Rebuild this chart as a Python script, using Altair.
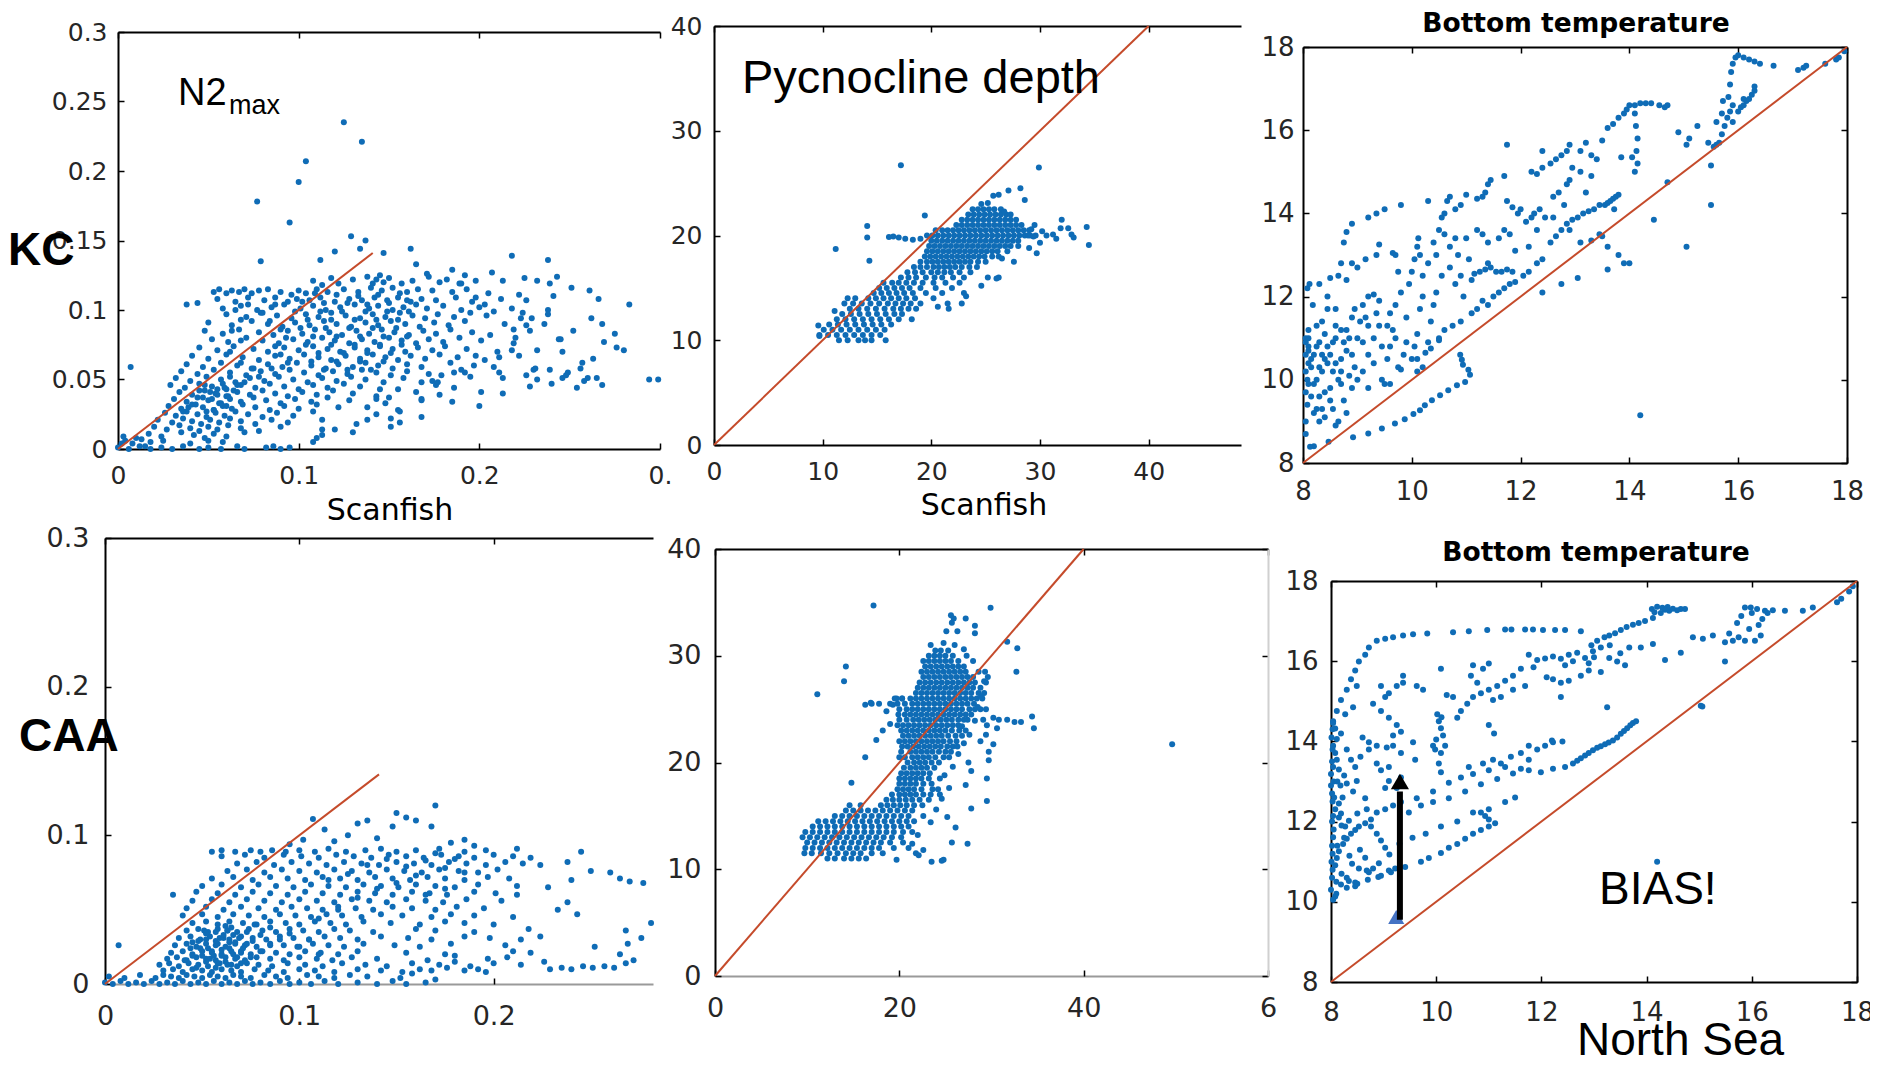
import altair as alt
import pandas as pd

BLUE = "#0F6CB6"
RED = "#C54B2B"
TICK_FONT = "DejaVu Sans"
ANN_FONT = "Liberation Sans"
OFF = 8
W, H = 1862, 1049
PT = 36

# ---------------- data: KC, N2max (Scanfish vs model) ----------------
kc_n2 = [
 (0.125,0.235),(0.135,0.221),(0.104,0.207),(0.100,0.192),(0.077,0.178),(0.095,0.163),
 (0.079,0.135),(0.007,0.059),(0.038,0.104),(0.044,0.105),
 (0.129,0.153),(0.137,0.150),(0.134,0.144),(0.147,0.141),(0.162,0.144),(0.120,0.142),
 (0.112,0.136),(0.218,0.139),(0.238,0.136),(0.165,0.133),(0.185,0.129),(0.171,0.126),
 (0.283,0.104),(0.280,0.071),(0.269,0.077),(0.275,0.083),(0.268,0.090),(0.266,0.108),
 (0.261,0.114),(0.251,0.116),(0.243,0.124),(0.239,0.119),(0.232,0.121),(0.225,0.123),
 (0.238,0.100),(0.236,0.090),(0.232,0.071),(0.226,0.053),(0.230,0.057),(0.239,0.057),
 (0.246,0.070),(0.249,0.055),(0.256,0.058),(0.260,0.051),(0.265,0.051),(0.246,0.051),
 (0.294,0.050),(0.299,0.050),(0.219,0.086),(0.220,0.080),(0.218,0.071),(0.211,0.066),
 (0.213,0.051),(0.201,0.041),(0.208,0.059),(0.198,0.067),(0.203,0.104),(0.207,0.127),
 (0.213,0.121),(0.222,0.111),(0.224,0.098),(0.226,0.089),(0.198,0.109),(0.192,0.125),
 (0.189,0.119),(0.257,0.062),(0.262,0.094),(0.252,0.085),(0.244,0.079),(0.229,0.094),
 (0.108,0.121),(0.113,0.118),(0.118,0.123),(0.122,0.119),(0.130,0.122),(0.138,0.124),(0.141,0.119),
 (0.143,0.122),(0.145,0.125),(0.147,0.120),(0.150,0.123),(0.157,0.119),(0.163,0.121),(0.172,0.124),
 (0.178,0.120),(0.182,0.122),(0.190,0.119),(0.198,0.121),
 (0.053,0.113),(0.056,0.115),(0.060,0.112),(0.063,0.114),(0.067,0.113),(0.070,0.115),(0.074,0.112),
 (0.078,0.114),(0.083,0.115),(0.090,0.113),(0.100,0.114),(0.104,0.112),(0.110,0.115),(0.116,0.113),
 (0.125,0.115),(0.133,0.113),(0.140,0.116),(0.146,0.114),(0.152,0.116),(0.160,0.113),(0.166,0.115),
 (0.174,0.114),(0.185,0.113),(0.193,0.115),(0.205,0.112),
 (0.055,0.108),(0.065,0.106),(0.072,0.109),(0.081,0.107),(0.087,0.109),(0.094,0.106),(0.099,0.108),
 (0.106,0.107),(0.112,0.109),(0.120,0.106),(0.128,0.108),(0.135,0.107),(0.142,0.109),(0.149,0.107),
 (0.155,0.109),(0.162,0.106),(0.168,0.108),(0.176,0.107),(0.187,0.109),(0.196,0.106),(0.212,0.108),
 (0.226,0.107),(0.241,0.110),
 (0.058,0.101),(0.068,0.103),(0.077,0.100),(0.085,0.102),(0.092,0.104),(0.101,0.101),(0.108,0.103),
 (0.115,0.100),(0.123,0.102),(0.131,0.104),(0.139,0.101),(0.144,0.103),(0.152,0.100),(0.158,0.102),
 (0.165,0.104),(0.171,0.101),(0.180,0.103),(0.190,0.100),(0.200,0.102),(0.208,0.099),(0.218,0.101),
 (0.060,0.097),(0.071,0.095),(0.079,0.098),(0.088,0.096),(0.096,0.094),(0.104,0.097),(0.111,0.095),
 (0.118,0.098),(0.126,0.096),(0.134,0.094),(0.141,0.097),(0.148,0.095),(0.156,0.098),(0.163,0.096),
 (0.170,0.094),(0.177,0.097),(0.186,0.095),(0.195,0.098),(0.204,0.096),(0.223,0.094),(0.238,0.097),
 (0.050,0.091),(0.063,0.089),(0.074,0.092),(0.083,0.090),(0.091,0.088),(0.098,0.091),(0.106,0.089),
 (0.114,0.092),(0.121,0.090),(0.129,0.088),(0.137,0.091),(0.144,0.089),(0.151,0.092),(0.159,0.090),
 (0.167,0.088),(0.175,0.091),(0.183,0.089),(0.192,0.092),(0.214,0.090),
 (0.048,0.085),(0.058,0.083),(0.067,0.086),(0.078,0.084),(0.086,0.082),(0.094,0.085),(0.102,0.083),
 (0.109,0.086),(0.117,0.084),(0.124,0.082),(0.132,0.085),(0.139,0.083),(0.146,0.086),(0.153,0.084),
 (0.161,0.082),(0.169,0.085),(0.176,0.083),(0.184,0.086),(0.196,0.084),(0.206,0.082),(0.228,0.085),
 (0.052,0.079),(0.061,0.077),(0.071,0.080),(0.080,0.078),(0.089,0.076),(0.097,0.079),(0.105,0.077),
 (0.113,0.080),(0.120,0.078),(0.128,0.076),(0.135,0.079),(0.142,0.077),(0.150,0.080),(0.157,0.078),
 (0.165,0.076),(0.172,0.079),(0.180,0.077),(0.189,0.080),(0.201,0.078),(0.219,0.076),(0.245,0.079),
 (0.045,0.073),(0.055,0.071),(0.064,0.074),(0.075,0.072),(0.083,0.070),(0.092,0.073),(0.100,0.071),
 (0.108,0.074),(0.116,0.072),(0.123,0.070),(0.131,0.073),(0.138,0.071),(0.145,0.074),(0.152,0.072),
 (0.159,0.070),(0.166,0.073),(0.174,0.071),(0.181,0.074),(0.193,0.072),(0.210,0.070),(0.276,0.073),
 (0.041,0.067),(0.050,0.065),(0.060,0.068),(0.069,0.066),(0.078,0.064),(0.087,0.067),(0.095,0.065),
 (0.103,0.068),(0.111,0.066),(0.118,0.064),(0.126,0.067),(0.134,0.065),(0.141,0.068),(0.148,0.066),
 (0.155,0.064),(0.162,0.067),(0.170,0.065),(0.178,0.068),(0.188,0.066),(0.203,0.064),(0.222,0.067),
 (0.263,0.065),
 (0.038,0.061),(0.047,0.059),(0.057,0.062),(0.066,0.060),(0.074,0.058),(0.083,0.061),(0.091,0.059),
 (0.099,0.062),(0.107,0.060),(0.115,0.058),(0.122,0.061),(0.130,0.059),(0.137,0.062),(0.144,0.060),
 (0.152,0.058),(0.160,0.061),(0.168,0.059),(0.184,0.062),(0.197,0.060),(0.231,0.058),
 (0.035,0.056),(0.044,0.054),(0.053,0.057),(0.062,0.055),(0.071,0.053),(0.079,0.056),(0.087,0.054),
 (0.095,0.057),(0.103,0.055),(0.111,0.053),(0.119,0.056),(0.127,0.054),(0.135,0.057),(0.143,0.055),
 (0.151,0.053),(0.160,0.056),(0.172,0.054),(0.190,0.057),(0.211,0.055),(0.248,0.053),
 (0.032,0.051),(0.040,0.049),(0.049,0.052),(0.057,0.050),(0.065,0.048),(0.073,0.051),(0.081,0.049),
 (0.089,0.052),(0.097,0.050),(0.105,0.048),(0.113,0.051),(0.121,0.049),(0.129,0.052),(0.137,0.050),
 (0.147,0.048),(0.158,0.051),(0.174,0.049),(0.195,0.052),(0.232,0.050),(0.258,0.049),
 (0.029,0.046),(0.037,0.044),(0.045,0.047),(0.052,0.045),(0.060,0.043),(0.068,0.046),(0.076,0.044),
 (0.084,0.047),(0.092,0.045),(0.100,0.043),(0.108,0.046),(0.116,0.044),(0.125,0.047),(0.134,0.045),
 (0.145,0.043),(0.176,0.046),(0.186,0.044),(0.228,0.045),(0.240,0.047),(0.254,0.044),(0.268,0.046),
 (0.034,0.041),(0.041,0.039),(0.048,0.042),(0.054,0.040),(0.060,0.038),(0.066,0.041),(0.073,0.039),
 (0.080,0.042),(0.087,0.040),(0.094,0.038),(0.102,0.041),(0.110,0.039),(0.119,0.042),(0.130,0.040),
 (0.143,0.038),(0.165,0.041),(0.178,0.039),(0.213,0.040),
 (0.031,0.036),(0.038,0.034),(0.044,0.037),(0.050,0.035),(0.056,0.033),(0.062,0.036),(0.068,0.034),
 (0.075,0.037),(0.082,0.035),(0.090,0.033),(0.098,0.036),(0.107,0.034),(0.116,0.037),(0.128,0.035),
 (0.148,0.033),(0.168,0.036),(0.185,0.034),
 (0.028,0.031),(0.035,0.029),(0.041,0.032),(0.047,0.030),(0.053,0.028),(0.058,0.031),(0.063,0.029),
 (0.069,0.032),(0.076,0.030),(0.084,0.028),(0.092,0.031),(0.100,0.029),(0.110,0.032),(0.122,0.030),
 (0.155,0.028),(0.200,0.031),
 (0.026,0.026),(0.032,0.024),(0.038,0.027),(0.044,0.025),(0.049,0.023),(0.054,0.026),(0.059,0.024),
 (0.065,0.027),(0.072,0.025),(0.080,0.023),(0.088,0.026),(0.097,0.024),(0.108,0.027),(0.143,0.025),
 (0.168,0.023),
 (0.022,0.021),(0.030,0.019),(0.036,0.022),(0.041,0.020),(0.046,0.018),(0.051,0.021),(0.056,0.019),
 (0.062,0.022),(0.068,0.020),(0.076,0.018),(0.085,0.021),(0.094,0.019),(0.138,0.021),(0.156,0.019),
 (0.020,0.016),(0.027,0.014),(0.034,0.017),(0.040,0.015),(0.045,0.013),(0.050,0.016),(0.055,0.014),
 (0.061,0.017),(0.068,0.015),(0.078,0.013),(0.090,0.016),(0.113,0.014),(0.151,0.016),
 (0.017,0.011),(0.024,0.009),(0.035,0.012),(0.042,0.010),(0.048,0.008),(0.053,0.011),(0.060,0.009),
 (0.070,0.012),(0.113,0.010),(0.130,0.012),(0.110,0.008),
 (0.004,0.006),(0.008,0.004),(0.013,0.007),(0.018,0.005),(0.025,0.006),(0.040,0.004),(0.050,0.006),
 (0.058,0.005),(0.108,0.005),(0.120,0.014),
 (0.000,0.001),(0.006,0.000),(0.012,0.002),(0.018,0.000),(0.024,0.001),(0.030,0.000),(0.036,0.002),
 (0.045,0.000),(0.050,0.001),(0.057,0.000),(0.066,0.002),(0.070,0.000),(0.082,0.001),(0.086,0.002),
 (0.090,0.000),(0.095,0.001),(0.003,0.009),(0.010,0.008),(0.002,0.004),(0.015,0.002),
 (0.043,0.032),(0.047,0.037),(0.051,0.041),(0.055,0.043),(0.058,0.047),(0.061,0.038),(0.064,0.042),
 (0.057,0.033),(0.053,0.028),(0.049,0.027),(0.045,0.042),(0.039,0.030),(0.036,0.027),(0.062,0.052),
 (0.059,0.044),(0.052,0.036),(0.048,0.046),(0.055,0.039),(0.060,0.031),(0.066,0.046),
 (0.113,0.021),(0.132,0.018),(0.138,0.030),(0.151,0.022),(0.156,0.027),(0.168,0.035),(0.168,0.048),
 (0.177,0.048),(0.179,0.053),(0.186,0.055),(0.192,0.055),(0.155,0.043),(0.150,0.037),(0.143,0.036),
 (0.096,0.111),(0.102,0.106),(0.109,0.112),(0.114,0.105),(0.121,0.111),(0.127,0.105),(0.133,0.110),
 (0.138,0.104),(0.144,0.111),(0.150,0.105),(0.156,0.112),(0.160,0.107),(0.098,0.099),(0.105,0.093),
 (0.112,0.099),(0.118,0.093),(0.124,0.099),(0.131,0.093),(0.137,0.099),(0.143,0.093),(0.149,0.099),
 (0.155,0.093),(0.161,0.099),(0.101,0.087),(0.108,0.081),(0.115,0.087),(0.121,0.081),(0.128,0.087),
 (0.134,0.081),(0.141,0.087),(0.147,0.081),(0.154,0.087),(0.160,0.081),(0.104,0.075),(0.111,0.069),
 (0.118,0.075),(0.125,0.069),(0.131,0.075),(0.138,0.069),(0.145,0.075),(0.151,0.069),(0.157,0.075),
 (0.107,0.063),(0.114,0.057),(0.121,0.063),(0.127,0.057),(0.134,0.063),(0.140,0.057),(0.147,0.063),
 (0.087,0.104),(0.080,0.098),(0.084,0.092),(0.090,0.086),(0.093,0.080),(0.087,0.074),(0.090,0.068),
 (0.094,0.062),(0.085,0.058),(0.078,0.052),(0.070,0.048),(0.075,0.058),(0.068,0.062),(0.062,0.070),
 (0.068,0.078),(0.063,0.085),(0.068,0.093),(0.065,0.100),(0.072,0.104),
]

# ---------------- data: CAA, N2max ----------------
caa_n2 = [
 (0.007,0.026),
 (0.000,0.001),(0.004,0.000),(0.008,0.002),(0.012,0.000),(0.016,0.001),(0.020,0.000),(0.024,0.002),
 (0.028,0.000),(0.032,0.001),(0.036,0.000),(0.040,0.002),(0.044,0.000),(0.048,0.001),(0.052,0.000),
 (0.056,0.002),(0.060,0.000),(0.064,0.001),(0.068,0.000),(0.072,0.002),(0.076,0.000),(0.080,0.001),
 (0.085,0.000),(0.090,0.002),(0.095,0.000),(0.100,0.001),(0.106,0.000),(0.113,0.002),(0.120,0.000),
 (0.130,0.001),(0.140,0.000),(0.148,0.002),(0.155,0.000),(0.165,0.001),(0.170,0.003),
 (0.002,0.005),(0.010,0.004),(0.018,0.006),(0.026,0.004),(0.030,0.006),(0.034,0.005),(0.038,0.004),
 (0.042,0.006),(0.046,0.005),(0.050,0.004),(0.054,0.006),(0.058,0.005),(0.062,0.004),(0.066,0.006),
 (0.070,0.005),(0.075,0.004),(0.082,0.006),(0.088,0.005),(0.094,0.004),(0.104,0.006),(0.110,0.005),
 (0.118,0.004),(0.126,0.006),(0.135,0.005),(0.152,0.004),(0.158,0.007),
 (0.030,0.009),(0.035,0.010),(0.040,0.008),(0.045,0.010),(0.050,0.009),(0.055,0.008),(0.060,0.010),
 (0.065,0.009),(0.070,0.008),(0.077,0.010),(0.084,0.009),(0.092,0.008),(0.100,0.010),(0.108,0.009),
 (0.118,0.008),(0.130,0.010),(0.142,0.009),(0.153,0.008),(0.162,0.010),(0.168,0.009),(0.176,0.011),
 (0.185,0.009),(0.192,0.010),(0.196,0.008),(0.229,0.010),(0.235,0.011),(0.240,0.010),(0.246,0.012),
 (0.251,0.011),(0.257,0.012),(0.262,0.011),(0.268,0.014),
 (0.028,0.013),(0.033,0.014),(0.038,0.012),(0.043,0.014),(0.048,0.013),(0.053,0.012),(0.058,0.014),
 (0.063,0.013),(0.068,0.012),(0.073,0.014),(0.079,0.013),(0.086,0.012),(0.094,0.014),(0.103,0.013),
 (0.112,0.012),(0.122,0.014),(0.134,0.013),(0.145,0.012),(0.158,0.014),(0.172,0.013),(0.180,0.015),
 (0.188,0.012),(0.200,0.014),(0.214,0.013),(0.226,0.015),(0.272,0.016),
 (0.032,0.017),(0.037,0.018),(0.042,0.016),(0.047,0.018),(0.052,0.017),(0.057,0.016),(0.062,0.018),
 (0.067,0.017),(0.072,0.016),(0.078,0.018),(0.085,0.017),(0.092,0.016),(0.100,0.018),(0.109,0.017),
 (0.117,0.016),(0.127,0.018),(0.140,0.017),(0.166,0.016),(0.180,0.019),(0.197,0.017),(0.207,0.018),
 (0.034,0.021),(0.040,0.022),(0.045,0.020),(0.050,0.022),(0.055,0.021),(0.060,0.020),(0.065,0.022),
 (0.070,0.021),(0.075,0.020),(0.081,0.022),(0.088,0.021),(0.095,0.020),(0.103,0.022),(0.111,0.021),
 (0.120,0.020),(0.130,0.022),(0.155,0.021),(0.175,0.020),(0.210,0.022),(0.219,0.021),(0.265,0.020),
 (0.036,0.026),(0.042,0.027),(0.047,0.025),(0.052,0.027),(0.057,0.026),(0.062,0.025),(0.067,0.027),
 (0.072,0.026),(0.078,0.025),(0.085,0.027),(0.092,0.026),(0.099,0.025),(0.107,0.027),(0.115,0.026),
 (0.123,0.025),(0.133,0.027),(0.149,0.026),(0.162,0.025),(0.178,0.027),(0.206,0.026),(0.252,0.025),
 (0.269,0.027),
 (0.038,0.031),(0.044,0.032),(0.049,0.030),(0.054,0.032),(0.059,0.031),(0.064,0.030),(0.070,0.032),
 (0.076,0.031),(0.083,0.030),(0.090,0.032),(0.097,0.031),(0.105,0.030),(0.113,0.032),(0.121,0.031),
 (0.130,0.030),(0.142,0.032),(0.156,0.031),(0.168,0.030),(0.185,0.032),(0.198,0.031),(0.214,0.030),
 (0.224,0.032),(0.276,0.031),
 (0.042,0.036),(0.048,0.037),(0.053,0.035),(0.058,0.037),(0.063,0.036),(0.068,0.035),(0.074,0.037),
 (0.081,0.036),(0.088,0.035),(0.095,0.037),(0.102,0.036),(0.110,0.035),(0.118,0.037),(0.126,0.036),
 (0.138,0.035),(0.160,0.037),(0.170,0.036),(0.190,0.035),(0.218,0.037),(0.268,0.036),
 (0.045,0.041),(0.052,0.042),(0.058,0.040),(0.064,0.042),(0.071,0.041),(0.078,0.040),(0.085,0.042),
 (0.093,0.041),(0.100,0.040),(0.108,0.042),(0.116,0.041),(0.124,0.040),(0.133,0.042),(0.147,0.041),
 (0.162,0.040),(0.175,0.042),(0.185,0.041),(0.200,0.040),(0.281,0.041),
 (0.040,0.046),(0.050,0.047),(0.058,0.045),(0.066,0.047),(0.074,0.046),(0.082,0.045),(0.090,0.047),
 (0.098,0.046),(0.106,0.045),(0.114,0.047),(0.122,0.046),(0.132,0.045),(0.142,0.047),(0.153,0.046),
 (0.168,0.045),(0.178,0.047),(0.190,0.046),(0.210,0.045),(0.243,0.047),
 (0.042,0.051),(0.052,0.052),(0.061,0.050),(0.070,0.052),(0.079,0.051),(0.088,0.050),(0.096,0.052),
 (0.104,0.051),(0.112,0.050),(0.120,0.052),(0.129,0.051),(0.138,0.050),(0.148,0.052),(0.158,0.051),
 (0.170,0.050),(0.181,0.052),(0.195,0.051),(0.233,0.050),
 (0.045,0.056),(0.055,0.057),(0.064,0.055),(0.073,0.057),(0.082,0.056),(0.091,0.055),(0.100,0.057),
 (0.109,0.056),(0.118,0.055),(0.127,0.057),(0.136,0.056),(0.145,0.055),(0.155,0.057),(0.165,0.056),
 (0.174,0.055),(0.186,0.057),(0.204,0.056),(0.238,0.055),
 (0.035,0.060),(0.047,0.062),(0.058,0.061),(0.067,0.060),(0.076,0.062),(0.085,0.061),(0.094,0.060),
 (0.103,0.062),(0.112,0.061),(0.121,0.060),(0.130,0.062),(0.139,0.061),(0.148,0.060),(0.158,0.062),
 (0.167,0.061),(0.176,0.060),(0.190,0.062),(0.201,0.061),(0.212,0.060),
 (0.050,0.066),(0.060,0.067),(0.070,0.065),(0.079,0.067),(0.088,0.066),(0.097,0.065),(0.106,0.067),
 (0.115,0.066),(0.124,0.065),(0.133,0.067),(0.142,0.066),(0.151,0.065),(0.160,0.067),(0.170,0.066),
 (0.180,0.065),(0.192,0.067),(0.212,0.066),(0.228,0.065),
 (0.055,0.071),(0.066,0.072),(0.076,0.070),(0.085,0.072),(0.094,0.071),(0.103,0.070),(0.112,0.072),
 (0.121,0.071),(0.130,0.070),(0.139,0.072),(0.148,0.071),(0.157,0.070),(0.166,0.072),(0.175,0.071),
 (0.185,0.070),(0.197,0.072),(0.208,0.071),(0.240,0.070),(0.265,0.071),(0.270,0.069),
 (0.063,0.076),(0.073,0.077),(0.082,0.075),(0.091,0.077),(0.100,0.076),(0.109,0.075),(0.118,0.077),
 (0.127,0.076),(0.136,0.075),(0.145,0.077),(0.154,0.076),(0.163,0.075),(0.172,0.077),(0.182,0.076),
 (0.192,0.075),(0.202,0.077),(0.250,0.076),(0.260,0.075),(0.277,0.068),
 (0.068,0.081),(0.078,0.082),(0.087,0.080),(0.096,0.082),(0.105,0.081),(0.114,0.080),(0.123,0.082),
 (0.132,0.081),(0.141,0.080),(0.150,0.082),(0.159,0.081),(0.168,0.080),(0.177,0.082),(0.186,0.081),
 (0.196,0.080),(0.206,0.082),(0.215,0.081),(0.224,0.080),(0.238,0.082),
 (0.060,0.086),(0.072,0.087),(0.082,0.085),(0.092,0.087),(0.101,0.086),(0.110,0.085),(0.119,0.087),
 (0.128,0.086),(0.137,0.085),(0.146,0.087),(0.155,0.086),(0.164,0.085),(0.173,0.087),(0.182,0.086),
 (0.190,0.085),(0.200,0.087),(0.210,0.086),(0.219,0.085),
 (0.055,0.089),(0.060,0.090),(0.067,0.089),(0.075,0.090),(0.080,0.089),(0.086,0.090),(0.093,0.089),
 (0.100,0.090),(0.108,0.089),(0.115,0.091),(0.124,0.089),(0.134,0.090),(0.142,0.091),(0.150,0.089),
 (0.160,0.090),(0.172,0.091),(0.185,0.089),(0.196,0.090),(0.245,0.089),(0.212,0.091),
 (0.107,0.111),(0.113,0.104),(0.130,0.108),(0.135,0.110),(0.125,0.100),(0.150,0.115),(0.155,0.112),
 (0.160,0.110),(0.170,0.120),(0.168,0.106),(0.148,0.106),(0.140,0.098),(0.118,0.096),(0.185,0.097),
 (0.178,0.095),(0.190,0.093),(0.102,0.097),(0.095,0.094),
 (0.055,0.022),(0.058,0.027),(0.061,0.031),(0.064,0.024),(0.060,0.019),(0.067,0.028),(0.052,0.030),
 (0.057,0.035),(0.063,0.036),(0.066,0.033),(0.070,0.022),(0.049,0.024),(0.054,0.017),(0.059,0.014),
 (0.062,0.039),(0.068,0.018),(0.045,0.019),(0.073,0.027),(0.051,0.036),(0.065,0.013),
 (0.047,0.011),(0.052,0.015),(0.056,0.019),(0.060,0.023),(0.064,0.028),(0.069,0.031),(0.073,0.035),
 (0.077,0.040),(0.057,0.011),(0.062,0.015),(0.066,0.020),(0.071,0.024),(0.076,0.029),(0.080,0.033),
 (0.085,0.038),(0.050,0.019),(0.053,0.024),(0.057,0.029),(0.061,0.033),(0.065,0.038),(0.044,0.024),
 (0.048,0.029),(0.052,0.034),(0.041,0.016),(0.045,0.028),(0.070,0.014),(0.075,0.018),(0.080,0.022),
 (0.085,0.026),(0.090,0.030),(0.095,0.034),(0.100,0.025),(0.105,0.030),(0.110,0.020),(0.115,0.070),
 (0.125,0.074),(0.135,0.080),(0.145,0.084),(0.155,0.079),(0.165,0.083),(0.175,0.078),(0.160,0.073),
 (0.150,0.068),(0.140,0.064),(0.130,0.058),(0.120,0.050),(0.110,0.044),(0.170,0.088),(0.180,0.084),
 (0.185,0.075),(0.175,0.064),(0.165,0.060),
]

# ---------------- data: KC, pycnocline depth ----------------
kc_pyc_rows = [
 (22.5, [23.8, 24.3, 24.8, 25.3, 25.8, 26.4]),
 (22.0, [23.4, 23.9, 24.4, 24.9, 25.4, 25.9, 26.4, 26.9]),
 (21.5, [22.8, 23.3, 23.8, 24.3, 24.8, 25.3, 25.8, 26.3, 26.8, 27.3, 27.8]),
 (21.0, [22.3, 22.8, 23.3, 23.8, 24.3, 24.8, 25.3, 25.8, 26.3, 26.8, 27.3, 27.8, 28.3]),
 (20.5, [20.4, 21.0, 21.5, 22.0, 22.5, 23.0, 23.5, 24.0, 24.5, 25.0, 25.5, 26.0, 26.5, 27.0, 27.5, 28.0, 28.5, 29.0]),
 (20.0, [19.6, 20.1, 20.6, 21.1, 21.6, 22.1, 22.6, 23.1, 23.6, 24.1, 24.6, 25.1, 25.6, 26.1, 26.6, 27.1, 27.6, 28.1, 28.6, 29.1, 29.6]),
 (19.5, [20.0, 20.5, 21.0, 21.5, 22.0, 22.5, 23.0, 23.5, 24.0, 24.5, 25.0, 25.5, 26.0, 26.5, 27.0, 27.5, 28.0]),
 (19.0, [19.8, 20.3, 20.8, 21.3, 21.8, 22.3, 22.8, 23.3, 23.8, 24.3, 24.8, 25.3, 25.8, 26.3, 26.8, 27.3]),
 (18.5, [19.6, 20.1, 20.6, 21.1, 21.6, 22.1, 22.6, 23.1, 23.6, 24.1, 24.6, 25.1, 25.6, 26.1, 27.0]),
 (18.0, [19.4, 19.9, 20.4, 20.9, 21.4, 21.9, 22.4, 22.9, 23.4, 23.9, 24.4, 24.9, 25.6, 26.2]),
 (17.5, [19.0, 19.6, 20.1, 20.6, 21.1, 21.6, 22.1, 22.6, 23.1, 23.6, 24.3, 25.0]),
 (17.0, [18.4, 19.0, 19.6, 20.2, 20.7, 21.2, 21.7, 22.2, 22.8, 23.5, 24.2]),
 (16.5, [17.8, 18.5, 19.2, 20.0, 20.6, 21.2, 21.8, 22.6, 23.6]),
 (16.0, [17.2, 17.9, 18.6, 19.5, 20.3, 21.0, 22.0, 23.0]),
 (15.5, [15.6, 16.4, 17.0, 17.7, 18.4, 19.2, 20.2, 21.3, 22.6]),
 (15.0, [15.2, 15.9, 16.6, 17.3, 18.0, 19.0, 20.4, 21.9]),
 (14.5, [14.7, 15.4, 16.1, 16.8, 17.5, 18.3, 19.5, 21.0, 23.0]),
 (14.0, [12.3, 13.0, 14.2, 14.9, 15.6, 16.3, 17.0, 17.7, 18.5, 20.2]),
 (13.5, [12.0, 12.8, 13.6, 14.4, 15.2, 16.0, 16.7, 17.4, 18.1, 19.0, 21.5]),
 (13.0, [12.5, 13.3, 14.1, 14.9, 15.7, 16.5, 17.2, 17.9, 18.6]),
 (12.5, [11.8, 12.6, 13.4, 14.2, 15.0, 15.8, 16.6, 17.3]),
 (12.0, [11.3, 12.1, 12.9, 13.7, 14.5, 15.3, 16.1, 17.0, 18.2]),
 (11.5, [10.6, 11.4, 12.2, 13.0, 13.8, 14.6, 15.4, 16.3]),
 (11.0, [10.1, 10.9, 11.7, 12.5, 13.3, 14.1, 14.9, 15.7]),
 (10.5, [9.7, 10.5, 11.3, 12.1, 12.9, 13.7, 14.5, 15.3]),
 (10.0, [11.5, 12.3, 13.3, 13.9, 14.5, 15.8]),
]
kc_pyc_extra = [
 (17.2,26.7),(29.9,26.5),(11.2,18.7),(14.1,20.9),(14.1,19.8),(14.3,17.6),(19.4,21.9),(9.6,11.4),
 (9.7,10.4),(11.1,12.8),(16.1,19.85),(16.5,19.9),(17.0,19.8),(17.6,19.7),(18.3,19.6),(19.0,19.7),
 (28.9,20.0),(29.4,19.9),(30.6,20.0),(31.2,20.1),(31.9,20.7),(32.6,20.7),(32.9,20.1),(33.1,19.8),
 (34.3,20.8),(34.5,19.1),(32.0,21.5),(29.7,18.3),(29.0,18.8),(25.7,23.8),(26.2,23.9),(28.2,24.5),
 (27.1,24.3),(28.6,23.4),(26.2,16.0),(22.8,13.5),(23.2,14.2),(24.6,15.2),(25.2,16.0),(26.0,15.9),
 (21.6,13.0),(20.6,13.2),(27.6,17.5),(26.5,17.8),(28.0,19.0),(29.5,21.0),(30.2,20.4),(30.0,19.3),
 (31.5,19.7),(29.2,20.6),(26.7,22.3),(27.3,22.0),(24.6,23.0),(25.2,23.1),
]

# ---------------- data: CAA, pycnocline depth ----------------
caa_pyc_rows = [
 (30.5, [23.9, 24.5, 25.3]),
 (30.0, [23.2, 23.8, 24.4, 25.0, 25.8, 27.3]),
 (29.5, [22.6, 23.2, 23.8, 24.4, 25.0, 25.6, 26.4, 28.0]),
 (29.0, [22.8, 23.4, 24.0, 24.6, 25.2, 25.8, 26.4, 27.0]),
 (28.5, [22.4, 23.0, 23.6, 24.2, 24.8, 25.4, 26.0, 26.6, 27.2, 28.6, 29.3]),
 (28.0, [22.6, 23.2, 23.8, 24.4, 25.0, 25.6, 26.2, 26.8, 27.4, 28.0]),
 (27.5, [22.2, 22.8, 23.4, 24.0, 24.6, 25.2, 25.8, 26.4, 27.0, 27.6, 28.2, 29.4]),
 (27.0, [22.0, 22.6, 23.2, 23.8, 24.4, 25.0, 25.6, 26.2, 26.8, 27.4, 28.0, 28.8]),
 (26.5, [21.8, 22.4, 23.0, 23.6, 24.2, 24.8, 25.4, 26.0, 26.6, 27.2, 27.8, 28.6, 29.2]),
 (26.0, [19.5, 20.3, 21.2, 21.8, 22.4, 23.0, 23.6, 24.2, 24.8, 25.4, 26.0, 26.6, 27.2, 27.8, 28.4, 29.0]),
 (25.5, [17.0, 19.0, 19.8, 20.6, 21.4, 22.0, 22.6, 23.2, 23.8, 24.4, 25.0, 25.6, 26.2, 26.8, 27.4, 28.1]),
 (25.0, [20.0, 20.8, 21.4, 22.0, 22.6, 23.2, 23.8, 24.4, 25.0, 25.6, 26.2, 26.8, 27.6, 28.2, 28.8, 29.4]),
 (24.5, [19.9, 20.6, 21.2, 21.8, 22.4, 23.0, 23.6, 24.2, 24.8, 25.4, 26.0, 26.6, 27.2, 27.8]),
 (24.0, [20.0, 20.8, 21.5, 22.1, 22.7, 23.3, 23.9, 24.5, 25.1, 25.7, 26.4, 27.0]),
 (23.5, [19.8, 20.4, 21.0, 21.6, 22.2, 22.8, 23.4, 24.0, 24.6, 25.2, 25.8, 26.4]),
 (23.0, [20.2, 20.8, 21.4, 22.0, 22.6, 23.2, 23.8, 24.4, 25.0, 25.7, 26.5, 27.2]),
 (22.5, [20.4, 21.0, 21.6, 22.2, 22.8, 23.4, 24.0, 24.6, 25.3, 26.1, 26.8]),
 (22.0, [20.0, 20.6, 21.2, 21.8, 22.4, 23.0, 23.6, 24.2, 24.8, 25.5, 26.2]),
 (21.5, [20.3, 20.9, 21.5, 22.1, 22.7, 23.3, 23.9, 24.5, 25.2, 25.8, 26.3]),
 (21.0, [20.2, 21.2, 21.8, 22.4, 23.0, 23.6, 24.3, 25.0, 25.6]),
 (20.5, [20.0, 20.6, 21.4, 22.0, 22.6, 23.2, 23.9, 24.8, 25.4]),
 (20.0, [20.9, 21.6, 22.2, 22.8, 23.5, 24.3, 27.5]),
 (19.5, [20.5, 21.2, 21.8, 22.4, 23.0, 23.8]),
 (19.0, [20.2, 20.8, 21.4, 22.0, 22.6, 23.3]),
 (18.5, [20.0, 20.6, 21.2, 21.8, 22.4, 23.2, 24.4]),
 (18.0, [20.0, 20.6, 21.2, 21.8, 22.6, 23.5]),
 (17.5, [19.8, 20.4, 21.0, 21.6, 22.4, 23.6, 24.2]),
 (17.0, [19.2, 20.0, 20.6, 21.2, 21.8, 22.6, 23.4, 24.4]),
 (16.5, [18.6, 19.3, 20.0, 20.7, 21.4, 22.2, 23.2]),
 (16.0, [14.6, 15.8, 18.0, 18.7, 19.4, 20.1, 20.8, 21.6, 22.5]),
 (15.5, [14.2, 15.0, 15.8, 16.6, 17.4, 18.2, 19.0, 19.8, 20.6, 21.4]),
 (15.0, [13.0, 13.8, 14.6, 15.4, 16.2, 17.0, 17.8, 18.6, 19.4, 20.2, 21.0, 22.6]),
 (14.5, [11.2, 12.0, 12.8, 13.6, 14.4, 15.2, 16.0, 16.8, 17.6, 18.4, 19.2, 20.0, 20.8, 21.6]),
 (14.0, [10.6, 11.4, 12.2, 13.0, 13.8, 14.6, 15.4, 16.2, 17.0, 17.8, 18.6, 19.4, 20.2, 21.0]),
 (13.5, [9.8, 10.6, 11.4, 12.2, 13.0, 13.8, 14.6, 15.4, 16.2, 17.0, 17.8, 18.6, 19.4, 20.4, 21.4]),
 (13.0, [9.5, 10.3, 11.1, 11.9, 12.7, 13.5, 14.3, 15.1, 15.9, 16.7, 17.5, 18.3, 19.2, 20.2]),
 (12.5, [10.0, 10.8, 11.6, 12.4, 13.2, 14.0, 14.8, 15.6, 16.4, 17.2, 18.0, 19.0, 20.4]),
 (12.0, [9.8, 10.6, 11.4, 12.2, 13.0, 13.8, 14.6, 15.4, 16.2, 17.0, 17.8, 19.4, 21.0]),
 (11.5, [9.7, 10.5, 11.5, 12.4, 13.3, 14.2, 15.0, 15.8, 17.0, 18.2, 21.8]),
 (11.0, [12.2, 13.0, 14.0, 14.8, 15.6, 16.4]),
]
caa_pyc_extra = [
 (17.2,34.7),(29.9,34.5),(11.1,26.4),(14.2,29.0),(14.0,27.6),(49.6,21.7),(16.3,20.5),(14.8,18.1),
 (17.5,22.1),(32.8,30.7),(32.7,28.5),(31.7,31.3),(25.9,33.5),(27.2,33.5),(28.2,32.8),(26.3,32.3),
 (28.2,32.1),(25.6,33.8),(25.7,33.1),(25.1,32.3),(24.8,31.2),(26.0,31.0),(27.0,30.6),(23.4,31.0),
 (16.3,25.4),(16.9,25.6),(17.8,25.5),(18.6,24.8),(19.3,25.4),(19.7,26.0),(20.3,26.0),(18.2,23.0),
 (19.0,23.6),(27.4,24.0),(28.2,23.9),(29.1,24.0),(30.2,24.2),(30.8,24.0),(31.7,24.0),(32.5,23.8),
 (33.2,23.8),(34.4,24.3),(34.6,23.2),(30.6,23.2),(29.5,23.5),(29.4,22.6),(28.8,22.0),
 (19.7,10.9),(23.5,10.7),(24.6,10.8),(24.8,10.9),(25.7,12.5),(27.4,12.4),(26.1,13.9),(25.2,14.9),
 (27.8,15.7),(29.5,16.4),(29.5,18.5),(27.2,17.9),(27.8,19.2),(29.7,20.2),(29.7,21.0),(30.2,21.7),
 (22.1,11.3),(22.6,11.8),(21.4,12.4),(22.0,13.2),(23.4,14.4),(24.0,15.6),(24.6,16.6),(25.4,17.6),
 (24.9,18.8),(25.8,19.6),(26.4,20.8),(27.0,21.8),(27.6,22.6),(26.8,23.4),(28.5,25.2),(28.9,26.2),
 (29.2,27.6),(29.6,28.0),
]

# ---------------- data: KC, bottom temperature ----------------
kc_temp = [
 (8.05,8.7),(8.05,9.0),(8.08,9.4),(8.05,9.7),(8.08,10.0),(8.05,10.2),(8.1,10.4),(8.05,10.6),(8.1,10.8),
 (8.05,11.0),(8.1,11.2),(8.08,12.2),
 (8.25,9.3),(8.3,9.6),(8.3,10.3),(8.35,10.6),(8.3,10.9),(8.4,11.1),(8.35,11.4),(8.45,11.7),(8.3,12.3),
 (8.5,12.45),(8.45,12.0),(8.25,10.0),(8.4,9.1),(8.2,8.4),(8.5,9.5),(8.45,10.8),(8.55,10.2),(8.5,9.8),
 (8.6,11.0),(8.6,11.3),(8.65,12.5),(8.7,12.8),(8.2,9.9),(8.15,10.5),(8.1,10.7),(8.45,10.4),
 (8.7,10.5),(8.75,10.9),(8.8,10.7),(8.7,11.2),(8.85,11.0),(8.8,9.2),(8.75,9.5),(8.65,9.0),(8.9,9.8),
 (8.95,10.3),(8.9,11.5),(8.95,11.7),(8.8,12.4),(8.9,12.8),(8.75,13.3),(8.8,13.55),(8.9,13.75),
 (8.6,8.9),(8.7,9.9),(8.85,10.1),
 (9.0,11.0),(9.05,11.4),(9.1,11.8),(9.15,11.5),(9.2,11.3),(9.1,10.9),(9.2,12.0),(9.3,12.05),(9.35,11.6),
 (9.4,11.9),(9.0,10.0),(9.1,10.2),(9.2,10.6),(9.3,10.4),(9.2,9.8),(9.3,11.0),(9.4,11.3),(9.35,13.0),
 (9.4,13.25),(9.2,13.9),(9.35,14.0),(9.5,14.1),(9.0,12.7),(9.15,12.9),(9.45,10.8),(9.45,10.0),
 (9.55,10.5),(9.6,10.8),(9.65,11.2),(9.7,11.0),(9.6,11.6),(9.7,11.8),(9.8,12.1),(9.75,12.6),(9.7,13.0),
 (9.65,13.05),(9.8,14.2),(9.85,10.6),(9.9,10.9),(9.9,11.5),(9.95,12.3),(9.6,9.9),(9.75,10.3),(9.55,11.3),
 (10.0,12.6),(10.05,12.9),(10.1,13.2),(10.12,13.4),(10.15,13.0),(10.2,12.5),(10.2,12.0),(10.15,11.7),
 (10.1,11.1),(10.05,10.8),(10.0,10.5),(10.1,10.2),(10.25,10.65),(10.3,10.9),(10.35,11.4),(10.4,11.8),
 (10.45,12.1),(10.3,12.8),(10.4,13.3),(10.5,13.6),(10.3,14.3),(10.45,13.0),(10.5,11.0),(10.2,10.3),
 (10.55,13.9),(10.6,14.0),(10.65,14.3),(10.7,14.4),(10.8,14.1),(10.9,14.2),(10.6,13.5),(10.7,13.2),
 (10.8,13.4),(10.55,12.5),(10.7,12.7),(10.8,12.3),(10.9,12.5),(10.6,11.2),(10.75,11.3),(10.9,11.4),
 (10.95,12.0),(11.0,14.45),(10.85,13.0),
 (11.1,12.4),(11.15,12.55),(11.25,12.6),(11.35,12.65),(11.4,12.8),(11.45,12.7),(11.1,11.6),(11.2,11.7),
 (11.3,11.9),(11.4,11.8),(11.3,13.5),(11.4,13.3),(11.2,13.6),(11.0,13.4),(11.35,14.5),(11.4,14.7),
 (11.45,14.8),(11.3,14.4),(11.2,14.35),(11.05,12.9),
 (11.55,12.6),(11.65,12.6),(11.75,12.65),(11.85,12.6),(11.5,12.0),(11.6,12.1),(11.7,12.2),(11.8,12.3),
 (11.9,12.35),(11.6,13.4),(11.7,13.6),(11.8,13.5),(11.75,14.3),(11.85,14.15),(11.7,14.9),(11.75,15.65),
 (11.9,13.1),(11.95,14.0),
 (12.05,12.5),(12.15,12.6),(12.3,12.8),(12.4,12.9),(12.1,13.8),(12.2,13.9),(12.25,14.0),(12.35,14.1),
 (12.45,13.9),(12.2,15.0),(12.3,14.95),(12.4,15.1),(12.4,15.5),(12.15,13.2),(12.4,12.1),(12.0,14.1),
 (12.3,13.6),
 (12.55,13.3),(12.65,13.45),(12.75,13.6),(12.85,13.75),(12.95,13.85),(12.6,14.4),(12.7,14.5),(12.8,14.2),
 (12.9,13.6),(12.55,15.2),(12.65,15.3),(12.75,15.4),(12.85,15.5),(12.9,15.65),(12.95,15.1),(12.75,12.3),
 (12.6,13.9),(12.85,14.7),(12.9,14.8),
 (13.05,13.9),(13.15,14.0),(13.25,14.05),(13.35,14.1),(13.45,14.2),(13.1,13.3),(13.3,13.35),(13.45,13.5),
 (13.1,15.5),(13.2,15.7),(13.3,15.4),(13.4,15.3),(13.1,15.0),(13.3,14.9),(13.5,15.75),(13.05,12.45),
 (13.2,14.5),
 (13.55,14.2),(13.6,14.25),(13.65,14.3),(13.7,14.35),(13.75,14.4),(13.8,14.45),(13.6,16.05),(13.7,16.15),
 (13.8,16.3),(13.9,16.4),(13.95,16.5),(13.6,13.2),(13.8,13.0),(13.6,12.65),(13.85,15.35),(13.9,12.8),
 (13.5,13.45),(13.72,14.1),
 (14.0,16.6),(14.1,16.6),(14.2,16.65),(14.3,16.65),(14.4,16.65),(14.1,16.4),(14.12,16.1),(14.15,15.8),
 (14.13,15.5),(14.15,15.2),(14.1,15.0),(14.0,12.8),(14.2,9.15),(14.45,13.85),(14.05,15.35),
 (14.55,16.6),(14.65,16.55),(14.7,16.6),(14.7,14.75),(14.9,15.95),
 (15.05,15.65),(15.1,15.8),(15.25,16.1),(15.05,13.2),(15.5,15.15),(15.5,14.2),(15.55,15.6),(15.45,15.7),
 (15.6,15.65),(15.7,15.9),(15.75,16.1),(15.8,16.3),(15.85,16.45),(15.9,16.6),(15.82,16.8),(15.85,17.1),
 (15.87,17.4),(15.9,17.6),(15.95,17.75),(15.7,16.4),(15.6,16.2),(15.9,16.2),(15.65,15.7),(15.72,16.7),
 (16.0,17.8),(16.1,17.75),(16.2,17.7),(16.3,17.65),(16.4,17.6),(16.05,16.55),(16.1,16.6),(16.15,16.7),
 (16.2,16.75),(16.25,16.85),(16.3,16.95),(16.3,17.05),(16.0,16.45),(16.1,16.75),
 (16.65,17.55),(17.1,17.45),(17.2,17.5),(17.25,17.55),(17.8,17.7),(17.85,17.75),(17.95,17.9),(17.6,17.6),
 (8.13,8.39),(8.47,8.51),(8.92,8.62),(9.2,8.71),(9.45,8.83),(9.69,8.95),(9.87,9.05),(10.03,9.18),
 (10.15,9.27),(10.24,9.39),(10.37,9.51),(10.52,9.63),(10.67,9.75),(10.83,9.87),(10.98,9.95),
 (11.07,10.12),(11.04,10.24),(10.94,10.36),(10.92,10.48),(10.89,10.6),
 (9.5,9.9),(9.8,10.25),(10.1,10.5),(10.35,10.75),(10.5,10.95),
 (8.05,10.9),(8.1,11.0),(8.15,10.3),(8.2,10.6),(8.25,10.8),(8.15,9.6),(8.2,9.2),(8.3,9.0),(8.35,9.3),
 (8.4,9.7),(8.25,11.3),(8.5,10.6),(8.55,10.9),(8.6,10.4),(8.65,10.0),(8.35,10.2),(8.4,10.5),(8.7,10.2),
 (8.55,9.3),(8.1,9.9),(8.12,12.3),(8.18,11.8),(8.6,11.7),(8.8,11.2),(8.9,10.6),
]

# ---------------- data: North Sea, bottom temperature ----------------
ns_temp = [
 (8.72,16.34),(8.87,16.51),(9.03,16.56),(9.18,16.60),(9.37,16.64),(9.56,16.67),(9.83,16.69),(10.32,16.72),
 (10.62,16.75),(10.97,16.78),(11.31,16.79),(11.43,16.79),(11.69,16.79),(11.84,16.79),(12.03,16.78),
 (12.26,16.78),(12.45,16.78),(12.75,16.75),
 (8.65,16.16),(8.53,15.99),(8.46,15.77),(8.38,15.55),(8.30,15.29),(8.19,15.03),(8.11,14.76),(8.04,14.50),
 (13.06,16.51),(13.29,16.64),(13.51,16.78),(13.74,16.91),(13.97,17.00),(14.12,17.08),(14.27,17.20),
 (14.43,17.26),(14.65,17.30),(14.10,17.30),(14.20,17.36),(14.30,17.33),(14.40,17.35),(14.50,17.31),
 (14.58,17.27),(14.73,17.30),(14.15,17.22),(14.35,17.28),(13.85,16.95),(13.62,16.85),(13.40,16.70),
 (13.20,16.60),(12.95,16.40),
 (15.87,17.34),(15.98,17.34),(16.10,17.30),(16.25,17.26),(16.40,17.27),(16.63,17.26),(16.97,17.26),
 (17.16,17.34),(15.72,16.95),(15.80,17.13),(15.57,16.69),(15.49,16.47),(15.64,16.51),(15.87,16.51),
 (16.06,16.51),(16.17,16.64),(16.13,16.90),(16.20,17.05),(16.00,17.20),(15.75,16.60),(15.49,15.99),
 (15.07,16.56),(15.26,16.64),(14.88,16.60),(17.70,17.56),(17.85,17.74),(17.92,17.87),(17.62,17.47),
 (16.30,17.20),(15.95,16.80),
 (11.76,16.16),(11.92,16.03),(12.07,16.07),(12.22,16.12),(12.37,16.06),(12.52,16.16),(12.68,16.21),
 (12.83,16.08),(12.98,16.25),(13.13,16.34),(13.29,16.08),(13.44,15.99),(13.59,15.90),(13.67,16.34),
 (13.89,16.34),(14.12,16.43),(14.35,16.03),(14.65,16.21),(12.22,15.55),(12.37,15.46),(12.52,15.51),
 (12.75,15.64),(12.90,15.77),(13.13,15.73),(11.61,15.81),(11.46,15.64),(11.31,15.51),(11.16,15.38),
 (11.00,15.29),(10.85,15.20),(10.70,15.11),(10.59,14.94),(10.47,14.76),(10.40,14.59),(11.69,15.38),
 (11.46,15.29),(11.23,15.11),(11.08,15.03),(10.78,15.46),(10.66,15.64),(10.89,15.81),(11.00,15.94),
 (10.70,15.90),(10.09,15.81),(10.32,15.11),(10.20,15.16),(9.75,15.29),(9.63,15.38),(12.37,15.11),
 (13.25,14.85),(15.03,14.89),(12.60,16.00),(12.90,15.95),(13.00,16.10),(13.50,16.20),(13.30,16.40),
 (12.45,15.90),(11.85,15.85),(12.10,15.60),
 (10.02,14.68),(10.05,14.50),(10.09,14.33),(10.13,14.15),(10.17,13.89),(10.09,13.71),(10.05,13.45),
 (10.09,13.23),(9.98,13.80),(9.94,13.89),(10.00,14.05),(10.10,14.60),
 (9.14,10.74),(9.41,10.87),(9.71,11.00),(9.86,11.09),(10.09,11.22),(10.24,11.35),(10.40,11.44),
 (10.55,11.57),(10.70,11.70),(10.85,11.79),(11.00,11.88),(11.12,11.96),(11.00,12.05),(10.93,12.14),
 (10.85,12.23),
 (9.63,12.58),(9.94,12.75),(10.24,12.97),(10.47,13.10),(10.70,13.19),(11.00,13.28),(11.31,13.36),
 (11.61,13.32),(11.76,13.28),(11.99,13.23),(12.22,13.32),(12.45,13.36),(12.60,13.45),(12.75,13.58),
 (12.90,13.71),(13.06,13.84),(13.21,13.93),(13.36,14.02),(13.51,14.19),(13.63,14.33),(13.74,14.46),
 (12.68,13.52),(12.83,13.65),(12.98,13.78),(13.13,13.88),(13.28,13.97),(13.44,14.10),(13.57,14.26),
 (13.69,14.40),(13.80,14.50),
 (9.48,12.23),(9.71,12.40),(9.94,12.49),(10.24,12.58),(10.55,12.75),(10.85,12.93),(11.16,13.06),
 (11.46,13.20),(11.76,13.54),(12.07,13.89),(12.22,13.98),(11.76,13.89),(11.92,13.80),(11.61,13.71),
 (11.42,13.62),(11.23,13.45),(11.08,13.54),(10.89,13.45),(10.62,13.36),(12.40,14.00),(12.20,14.02),
 (10.09,11.88),(10.40,12.00),(10.70,12.23),(11.00,12.31),(11.31,12.49),(11.50,12.60),(9.80,11.70),
 (9.55,11.60),(9.30,11.45),
 (8.00,10.30),(8.08,10.13),(8.04,10.05),(8.19,10.43),(8.34,10.52),(8.46,10.48),(8.46,10.39),(8.08,10.91),
 (8.11,11.09),(8.15,11.26),(8.23,11.44),(8.30,11.57),(8.38,11.70),(8.46,11.79),(8.53,11.88),(8.65,11.96),
 (8.76,12.05),(8.87,12.23),(9.03,12.31),(9.18,12.40),(9.33,12.49),(8.04,11.61),(8.04,12.14),(8.08,12.31),
 (8.19,12.20),(8.34,12.02),(8.00,13.19),(8.04,13.36),(8.11,13.54),(8.08,13.71),(8.04,13.89),(8.11,14.06),
 (8.08,14.32),(8.04,14.46),(8.19,14.20),(8.30,13.80),(8.38,13.54),(8.46,13.36),(8.49,13.01),(8.42,12.75),
 (8.65,12.58),(8.68,12.31),(8.76,11.88),(8.87,11.70),(8.95,11.53),(9.03,11.35),(9.11,11.18),(8.91,10.96),
 (8.80,10.83),(8.68,10.78),(8.95,10.65),(8.72,10.74),(8.53,10.83),(9.10,10.78),(9.22,10.83),(8.27,11.88),
 (8.72,13.80),(8.87,13.89),(8.72,13.98),(8.95,13.28),(9.10,13.36),(8.87,13.45),(9.10,13.01),(9.25,12.84),
 (9.03,12.84),(9.33,13.10),(9.18,13.89),(9.33,14.24),(9.25,14.41),(9.10,14.59),(8.95,14.76),(8.80,14.94),
 (9.03,15.11),(9.10,15.20),(9.37,15.46),(9.37,15.64),(9.25,15.38),(8.95,15.38),(8.49,15.38),(8.42,14.85),
 (8.27,14.68),(9.56,13.98),(9.60,13.54),(9.33,13.71),(9.06,13.85),(9.18,14.15),(8.00,12.90),(8.06,12.60),
 (8.15,12.45),(8.30,12.95),(8.25,13.15),(8.56,13.62),(8.60,14.10),(8.50,12.20),(8.20,10.70),(8.35,11.15),
 (8.55,11.30),(8.65,11.10),(8.40,10.95),
 (14.20,11.00),(15.06,14.87),(11.00,14.41),(11.10,14.20),
 (8.02,10.6),(8.03,10.8),(8.01,11.0),(8.03,11.2),(8.02,11.4),(8.05,11.8),(8.02,12.0),(8.03,12.5),
 (8.02,12.7),(8.05,13.0),(8.02,13.5),(8.03,13.8),(8.01,14.1),(8.03,14.3),(8.12,13.0),(8.15,13.3),
 (8.18,12.9),(8.22,12.6),(8.15,12.1),(8.20,11.9),(8.25,11.6),(8.12,11.4),(8.10,10.5),(8.30,10.6),
 (8.10,10.2),(8.30,10.35),(8.50,10.45),(8.70,10.55),(8.90,10.62),
]

# one-to-one reference lines (start, end)
n2_one_to_one = [0.0, 0.141]
pyc_one_to_one = [0.0, 40.0]
temp_one_to_one = [8.0, 18.0]

# BIAS arrow (North Sea panel): x, start, end, head
bias_arrow = [9.31, 9.55, 12.75, 13.0]
bias_marker = [9.24, 9.62]

# tick values
n2_x_ticks = [0, 0.1, 0.2, 0.3]
n2_y_ticks_kc = [0, 0.05, 0.1, 0.15, 0.2, 0.25, 0.3]
n2_x_ticks_caa = [0, 0.1, 0.2]
n2_y_ticks_caa = [0, 0.1, 0.2, 0.3]
pyc_x_ticks_kc = [0, 10, 20, 30, 40]
pyc_x_ticks_caa = [0, 20, 40, 60]
pyc_y_ticks = [0, 10, 20, 30, 40]
temp_ticks = [8, 10, 12, 14, 16, 18]


def df_pts(pts):
    return pd.DataFrame(pts, columns=["x", "y"])


def df_rows(rows, extra):
    pts = [(x, y) for y, xs in rows for x in xs] + list(extra)
    return df_pts(pts)


def df_line(se):
    return pd.DataFrame({"x": se, "y": se})


def sc(dom, rng):
    return alt.Scale(domain=dom, range=[rng[0] - OFF, rng[1] - OFF], nice=False, zero=False)


def axis(orient, pos, values, labels=False, ticks=False, domain=False, dcolor="black",
         fsize=25, pad=10, expr=None, tcolor="black"):
    p = pos - OFF
    off = {"top": -p, "bottom": p - H, "left": -p, "right": p - W}[orient]
    kw = dict(orient=orient, offset=off, values=values, labels=labels, ticks=ticks,
              domain=domain, grid=False, title=None)
    if domain:
        kw.update(domainColor=dcolor, domainWidth=2)
    if ticks:
        kw.update(tickColor=tcolor, tickSize=6, tickWidth=1.5)
    if labels:
        kw.update(labelFont=TICK_FONT, labelFontSize=fsize, labelColor="#262626",
                  labelPadding=pad, labelFlush=False, labelOverlap=False, format=".4~g")
        if expr:
            kw["labelExpr"] = expr
    return alt.Axis(**kw)


def panel(data, line, xd, yd, xr, yr, xv, yv, fs, xpad, ypad, bcol="black",
          right=None, xexpr=None):
    xs, ys = sc(xd, xr), sc(yd, yr)
    pts = alt.Chart(data).mark_circle(size=PT, color=BLUE, opacity=1).encode(
        x=alt.X("x:Q", scale=xs, axis=axis("bottom", yr[0], xv, labels=True, domain=True,
                                            dcolor=bcol, fsize=fs, pad=xpad, expr=xexpr)),
        y=alt.Y("y:Q", scale=ys, axis=axis("left", xr[0], yv, labels=True, domain=True,
                                            fsize=fs, pad=ypad)))
    diag = alt.Chart(df_line(line)).mark_line(color=RED, strokeWidth=2).encode(
        x=alt.X("x:Q", scale=xs, axis=axis("top", yr[0], xv, ticks=True)),
        y=alt.Y("y:Q", scale=ys, axis=axis("right", xr[0], yv, ticks=True)))
    yframe = axis("left", xr[1], yv, ticks=True, domain=True, dcolor=right) if right else None
    frame = alt.Chart(df_line(line)).mark_point(opacity=0).encode(
        x=alt.X("x:Q", scale=xs, axis=axis("bottom", yr[1], xv, ticks=True, domain=True)),
        y=alt.Y("y:Q", scale=ys, axis=yframe))
    return [pts, diag, frame]


def text(txt, x, y, size, font=ANN_FONT, weight="normal", align="left"):
    return alt.Chart(pd.DataFrame({"t": [txt]})).mark_text(
        font=font, fontSize=size, fontWeight=weight, align=align, baseline="alphabetic",
        color="black").encode(text="t:N", x=alt.value(x - OFF), y=alt.value(y - OFF))


layers = []
# top row
layers += panel(df_pts(kc_n2), n2_one_to_one, [0, 0.3], [0, 0.3], [118, 660], [449, 32],
                n2_x_ticks, n2_y_ticks_kc, 25, 14, 11,
                xexpr="datum.value > 0.25 ? '0.' : datum.label")
layers += panel(df_rows(kc_pyc_rows, kc_pyc_extra), pyc_one_to_one, [0, 48.5], [0, 40],
                [714, 1241], [445, 26], pyc_x_ticks_kc, pyc_y_ticks, 25, 14, 12)
layers += panel(df_pts(kc_temp), temp_one_to_one, [8, 18], [8, 18], [1303, 1847], [463, 47],
                temp_ticks, temp_ticks, 26, 15, 9, right="black")
# bottom row
layers += panel(df_pts(caa_n2), n2_one_to_one, [0, 0.282], [0, 0.3], [105, 653], [984, 538],
                n2_x_ticks_caa, n2_y_ticks_caa, 27, 19, 16, bcol="#9a9a9a")
layers += panel(df_rows(caa_pyc_rows, caa_pyc_extra), pyc_one_to_one, [0, 60], [0, 40],
                [715, 1268], [976, 549], pyc_x_ticks_caa, pyc_y_ticks, 27, 19, 14,
                bcol="#9a9a9a", right="#d0d0d0", xexpr="datum.value > 50 ? '6' : datum.label")
layers += panel(df_pts(ns_temp), temp_one_to_one, [8, 18], [8, 18], [1331, 1857], [982, 581],
                temp_ticks, temp_ticks, 26, 17, 13, right="black")

# BIAS arrow in the North Sea panel
xs6, ys6 = sc([8, 18], [1331, 1857]), sc([8, 18], [982, 581])
layers.append(alt.Chart(pd.DataFrame({"x": [bias_marker[0]], "y": [bias_marker[1]]}))
              .mark_point(shape="triangle-up", size=260, filled=True, color="#4472C4", opacity=1)
              .encode(x=alt.X("x:Q", scale=xs6, axis=None), y=alt.Y("y:Q", scale=ys6, axis=None)))
layers.append(alt.Chart(pd.DataFrame({"x": [bias_arrow[0]], "y": [bias_arrow[1]], "y2": [bias_arrow[2]]}))
              .mark_rule(color="black", strokeWidth=6)
              .encode(x=alt.X("x:Q", scale=xs6, axis=None), y=alt.Y("y:Q", scale=ys6, axis=None),
                      y2="y2:Q"))
layers.append(alt.Chart(pd.DataFrame({"x": [bias_arrow[0]], "y": [bias_arrow[3]]}))
              .mark_point(shape="triangle-up", size=330, filled=True, color="black", opacity=1)
              .encode(x=alt.X("x:Q", scale=xs6, axis=None), y=alt.Y("y:Q", scale=ys6, axis=None)))

# texts
layers += [
    text("Scanfish", 390, 520, 30, font=TICK_FONT, align="center"),
    text("Scanfish", 984, 515, 30, font=TICK_FONT, align="center"),
    text("Bottom temperature", 1576, 32, 26.5, font=TICK_FONT, weight="bold", align="center"),
    text("Bottom temperature", 1596, 561, 26.5, font=TICK_FONT, weight="bold", align="center"),
    text("N2", 178, 105, 38),
    text("max", 229, 114, 27),
    text("Pycnocline depth", 742, 93, 47),
    text("KC", 8, 265, 46, weight="bold"),
    text("CAA", 19, 751, 46, weight="bold"),
    text("BIAS!", 1599, 904, 46),
    text("North Sea", 1577, 1055, 46),
]

chart = alt.layer(*layers).resolve_scale(x="independent", y="independent").properties(
    width=W, height=H, padding=0, autosize=alt.AutoSizeParams(type="none")
).configure_view(stroke="transparent")

chart.save("out.html", embed_options={"renderer": "svg", "actions": False})
